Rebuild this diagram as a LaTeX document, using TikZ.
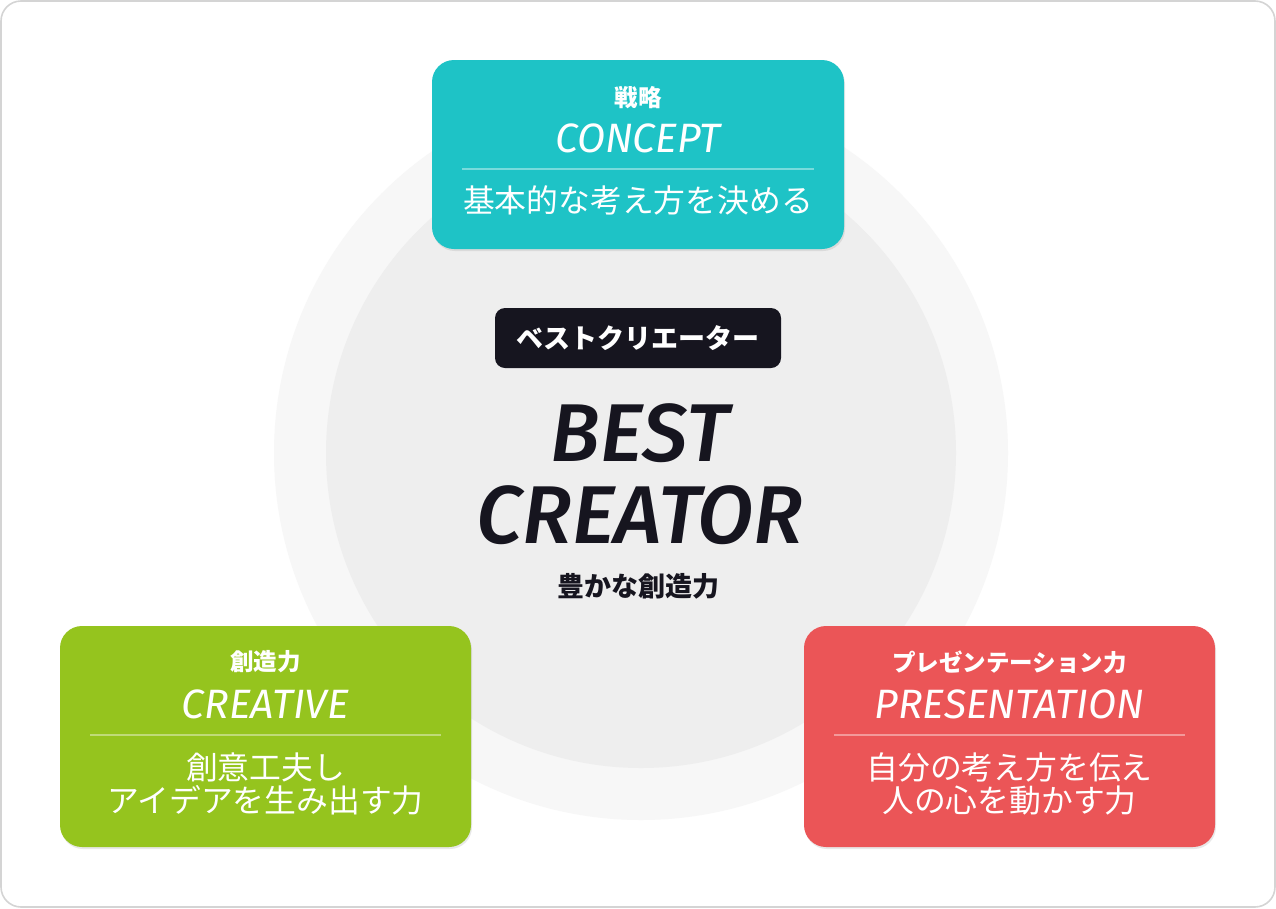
\documentclass[tikz,border=0pt]{standalone}
\usepackage{fontspec}
\setmainfont{Fira Sans}
\newfontfamily\jp{Noto Sans CJK JP}
\IfFontExistsTF{Fira Sans Medium Italic}
  {\newfontfamily\latmed{Fira Sans Medium Italic}}
  {\newfontfamily\latmed{Fira Sans}[UprightFont=*-Italic]}
\newfontfamily\latreg{Fira Sans}
\usetikzlibrary{shadows}
\definecolor{cteal}{HTML}{1EC3C6}
\definecolor{cgreen}{HTML}{95C41E}
\definecolor{cred}{HTML}{EB5557}
\definecolor{cdark}{HTML}{16151F}
\definecolor{couter}{HTML}{F7F7F7}
\definecolor{cinner}{HTML}{EEEEEE}
\definecolor{cborder}{HTML}{D4D4D4}
\tikzset{
  cardbox/.style={rounded corners=22pt, minimum width=411pt, inner sep=0pt,
    drop shadow={opacity=0.18, shadow xshift=1pt, shadow yshift=-2pt}},
  smalljp/.style={text=white, inner sep=0pt, font=\jp\bfseries\fontsize{23.5}{25}\selectfont},
  titlelat/.style={text=white, inner sep=0pt, font=\latreg\itshape\fontsize{41}{43}\selectfont},
  bodyjp/.style={text=white, inner sep=0pt, align=center, font=\jp\fontsize{31.8}{33}\selectfont},
  sepline/.style={white, opacity=0.4, line width=1.2pt}
}
\begin{document}
\begin{tikzpicture}[x=1pt,y=-1pt]
\useasboundingbox (0,0) rectangle (1276,908);
\draw[cborder, line width=1.6pt, fill=white, rounded corners=20pt] (1,1) rectangle (1275,907);
% circles
\fill[couter] (641,453) circle [radius=367pt];
\fill[cinner] (641,453) circle [radius=315pt];

% top card
\node[cardbox, fill=cteal, minimum width=412pt, minimum height=189pt] (concept) at (638,154.5) {};
\node[smalljp] (conceptjp) at (638,98) {戦略};
\node[titlelat] (concepten) at (638,138) {CONCEPT};
\coordinate (cl) at (462,169); \coordinate (cr) at (814,169);
\draw[sepline] (cl) -- (cr);
\node[bodyjp] (conceptbody) at (638,200) {基本的な考え方を決める};

% green card
\node[cardbox, fill=cgreen, minimum height=221pt] (creative) at (265.5,736.5) {};
\node[smalljp] (creativejp) at (265.5,662) {創造力};
\node[titlelat] (creativeen) at (265.5,704) {CREATIVE};
\coordinate (gl) at (90,735); \coordinate (gr) at (441,735);
\draw[sepline] (gl) -- (gr);
\node[bodyjp] (creativebody) at (265.5,784) {創意工夫し\\アイデアを生み出す力};

% red card
\node[cardbox, fill=cred, minimum height=221pt] (present) at (1009.5,736.5) {};
\node[smalljp] (presentjp) at (1009.5,662) {プレゼンテーション力};
\node[titlelat] (presenten) at (1009.5,704) {PRESENTATION};
\coordinate (rl) at (834,735); \coordinate (rr) at (1185,735);
\draw[sepline] (rl) -- (rr);
\node[bodyjp] (presentbody) at (1009.5,784) {自分の考え方を伝え\\人の心を動かす力};

% center
\node[fill=cdark, rounded corners=10pt, minimum width=286pt, minimum height=60pt, inner sep=0pt,
  text=white, font=\jp\bfseries\fontsize{27}{29}\selectfont] (label) at (638,338) {ベストクリエーター};
\node[text=cdark, inner sep=0pt, font=\latmed\fontsize{82}{84}\selectfont] (best) at (640,433.5) {BEST};
\node[text=cdark, inner sep=0pt, font=\latmed\fontsize{82}{84}\selectfont] (creator) at (640,515) {CREATOR};
\node[text=cdark, inner sep=0pt, font=\jp\bfseries\fontsize{27}{29}\selectfont] (rich) at (638,586) {豊かな創造力};
\end{tikzpicture}
\end{document}
